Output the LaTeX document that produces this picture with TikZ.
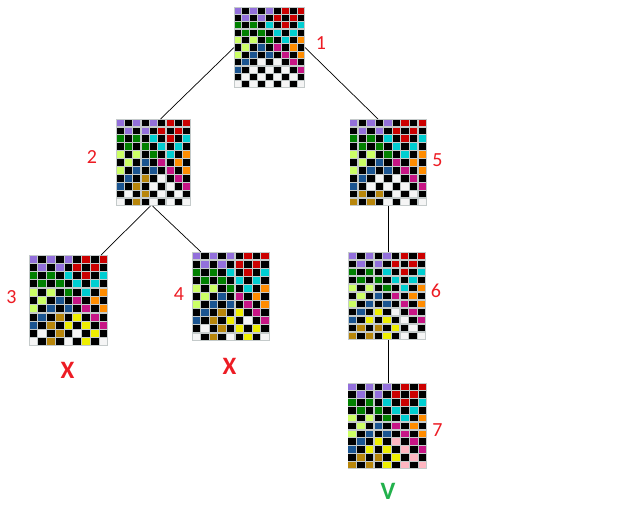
\documentclass[tikz,border=0pt]{standalone}
\usepackage{fontspec}
\setmainfont{Carlito}
\definecolor{cP}{HTML}{9370DB}
\definecolor{cK}{HTML}{000000}
\definecolor{cR}{HTML}{CC0000}
\definecolor{cG}{HTML}{008000}
\definecolor{cC}{HTML}{00CED1}
\definecolor{cL}{HTML}{CCFF66}
\definecolor{cB}{HTML}{1B5591}
\definecolor{cM}{HTML}{C71585}
\definecolor{cO}{HTML}{FF8C00}
\definecolor{cW}{HTML}{F5F5F5}
\definecolor{cD}{HTML}{B8860B}
\definecolor{cY}{HTML}{EEEE00}
\definecolor{cN}{HTML}{FFB6C1}
\definecolor{gridgray}{HTML}{C4CACA}
\definecolor{labred}{HTML}{ED1C24}
\definecolor{okgreen}{HTML}{22B14C}
\tikzset{
  gridbox/.style={rectangle, fill=gridgray, inner sep=0pt, outer sep=0pt},
  link/.style={draw=black, line width=0.7pt},
  numlabel/.style={text=labred, font=\fontsize{20}{24}\selectfont, inner sep=0pt},
  failmark/.style={text=labred, font=\fontsize{25}{30}\selectfont\bfseries, inner sep=0pt},
  okmark/.style={text=okgreen, font=\fontsize{25}{30}\selectfont\bfseries, inner sep=0pt}
}
\newcommand\mygrid[6]{%
  \node[gridbox, minimum width={#4-#2}, minimum height={#5-#3}] (#1) at ({(#2+#4)/2},{(#3+#5)/2}) {};
  \pgfmathsetmacro\cellw{(#4-#2)/9}%
  \pgfmathsetmacro\cellh{(#5-#3)/11}%
  \foreach \rowlist [count=\ri] in {{P,K,P,K,P,K,R,K,R},{K,P,K,P,K,R,K,R,K},{G,K,G,K,C,K,R,K,C},{K,G,K,G,K,C,K,C,K},{L,K,L,K,G,K,C,K,O},{K,L,K,B,K,M,K,O,K},{L,K,B,K,B,K,M,K,O},#6}{
    \foreach \cc [count=\ci] in \rowlist {
      \fill[fill=c\cc] ({#2+(\ci-1)*\cellw+0.6},{#3+(\ri-1)*\cellh+0.6}) rectangle ({#2+\ci*\cellw-0.6},{#3+\ri*\cellh-0.6});
    }
  }
}
\begin{document}
\begin{tikzpicture}[x=1pt,y=-1pt]
\fill[white] (0,0) rectangle (636,506);
\useasboundingbox (0,0) rectangle (636,506);
\mygrid{g1}{234}{7}{305}{88}{{K,B,K,W,K,W,K,M,K},{B,K,W,K,W,K,W,K,M},{K,W,K,W,K,W,K,W,K},{W,K,W,K,W,K,W,K,W}}
\mygrid{g2}{116}{119}{191}{206}{{K,B,K,D,K,W,K,M,K},{B,K,D,K,W,K,W,K,M},{K,W,K,D,K,W,K,W,K},{W,K,D,K,W,K,W,K,W}}
\mygrid{g5}{349.5}{119}{426.5}{206}{{K,B,K,W,K,W,K,M,K},{B,K,W,K,W,K,W,K,M},{K,D,K,D,K,W,K,W,K},{D,K,D,K,W,K,W,K,W}}
\mygrid{g3}{29}{255}{108}{346}{{K,B,K,D,K,Y,K,M,K},{B,K,D,K,Y,K,Y,K,M},{K,W,K,D,K,W,K,Y,K},{W,K,D,K,W,K,Y,K,W}}
\mygrid{g4}{192}{252}{269.5}{341}{{K,B,K,D,K,Y,K,M,K},{B,K,D,K,Y,K,W,K,M},{K,W,K,D,K,Y,K,Y,K},{W,K,D,K,W,K,Y,K,W}}
\mygrid{g6}{348}{252}{426}{340}{{K,B,K,Y,K,W,K,M,K},{B,K,Y,K,Y,K,W,K,M},{K,D,K,D,K,Y,K,W,K},{D,K,D,K,Y,K,W,K,W}}
\mygrid{g7}{347.5}{383}{427}{469}{{K,B,K,Y,K,N,K,M,K},{B,K,Y,K,Y,K,N,K,M},{K,D,K,D,K,Y,K,N,K},{D,K,D,K,Y,K,N,K,N}}
% connectors
\draw[link] (g1.west) -- ([xshift=7]g2.north);
\draw[link] (g1.east) -- ([xshift=-10]g5.north);
\draw[link] ([xshift=-3]g2.south) -- ([xshift=-7]g3.north east);
\draw[link] ([xshift=-1]g2.south) -- ([xshift=9]g4.north west);
\draw[link] (g5.south) -- (g5.south |- g6.north);
\draw[link] ([xshift=1]g6.south) -- ([xshift=1]g6.south |- g7.north);
% labels
\node[numlabel] (l1) at (321,43.5) {1};
\node[numlabel] (l2) at (92,157) {2};
\node[numlabel] (l3) at (11.5,297) {3};
\node[numlabel] (l4) at (179,294) {4};
\node[numlabel] (l5) at (437.5,160) {5};
\node[numlabel] (l6) at (436,291) {6};
\node[numlabel] (l7) at (437.5,430) {7};
\node[failmark] (x3) at (67.5,370) {X};
\node[failmark] (x4) at (229.5,366) {X};
\node[okmark] (v7) at (388,491) {V};
\end{tikzpicture}
\end{document}
